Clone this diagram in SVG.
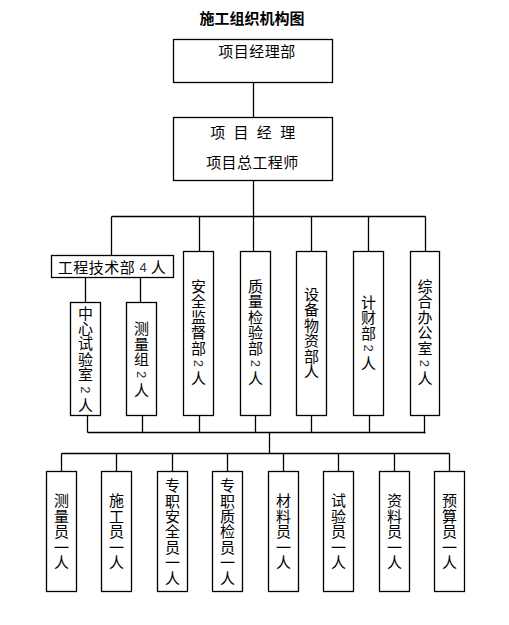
<svg xmlns="http://www.w3.org/2000/svg" width="509" height="625" viewBox="0 0 509 625">
<style>
.bx{fill:#fff;stroke:#000;stroke-width:1.3}
.ln{stroke:#000;stroke-width:1.3;fill:none}
.t{font-family:"Noto Sans CJK SC","Noto Sans",sans-serif;font-size:15px;fill:#000;text-anchor:middle}
.d{font-family:"Liberation Sans",sans-serif;font-size:13px;fill:#333;text-anchor:middle}
.ttl{font-family:"Noto Sans CJK SC",sans-serif;font-size:15px;font-weight:700;fill:#000;text-anchor:middle}
</style>
<rect width="509" height="625" fill="#fff"/>
<text class="ttl" x="252" y="23.7">施工组织机构图</text>
<g id="connectors">
<path class="ln" d="M253.5 82.5V117.5M253.5 180.5V216.5M111.5 216.5H425.5M111.5 216.5V255.5M199.5 216.5V251.5M253.5 216.5V251.5M311.5 216.5V251.5M368.5 216.5V251.5M425.5 216.5V251.5"/>
<path class="ln" d="M85.5 277.5V302.5M140.5 277.5V302.5"/>
<path class="ln" d="M87.5 415.5V432.5M142.5 415.5V432.5M199.5 415.5V432.5M255.5 415.5V432.5M311.5 415.5V432.5M369.5 415.5V432.5M424.5 415.5V433.5M87.5 432.5H425.5M269.5 432.5V453.5"/>
<path class="ln" d="M61.5 453.5H449.5M61.5 453.5V471.5M116.5 453.5V471.5M172.5 453.5V471.5M227.5 453.5V471.5M283.5 453.5V471.5M338.5 453.5V471.5M394.5 453.5V471.5M449.5 453.5V471.5"/>
</g>
<g id="n-xmjlb">
<rect class="bx" x="173.5" y="39.5" width="159" height="43"/>
<text class="t" x="257" y="57.4" letter-spacing="0.5">项目经理部</text>
</g>
<g id="n-xmjl">
<rect class="bx" x="173.5" y="117.5" width="159" height="63"/>
<text class="t" x="217.7 241 264.3 287.7" y="138">项目经理</text>
<text class="t" x="213.7 229.1 244.5 259.9 275.3 290.7" y="168">项目总工程师</text>
</g>
<g id="n-gcjsb">
<rect class="bx" x="51.5" y="255.5" width="122" height="22"/>
<text class="t" x="65.3 80.8 96.3 111.8 127.3" y="273.2">工程技术部</text>
<text class="d" x="143" y="272.2" fill="#456">4</text>
<text class="t" x="158.3" y="273.2">人</text>
</g>
<g id="n-zxsys">
<rect class="bx" x="70.5" y="302.5" width="30" height="113"/>
<text class="t" x="85.5 85.5 85.5 85.5 85.5" y="318.5 333.9 349.3 364.7 380.1">中心试验室</text>
<text class="d" transform="translate(85.5 389.8) rotate(90)" y="4.6">2</text>
<text class="t" x="85.5" y="410.9">人</text>
</g>
<g id="n-clz">
<rect class="bx" x="126.5" y="302.5" width="30" height="113"/>
<text class="t" x="141.5 141.5 141.5" y="334.1 349.5 364.9">测量组</text>
<text class="d" transform="translate(141.5 374.6) rotate(90)" y="4.6">2</text>
<text class="t" x="141.5" y="395.7">人</text>
</g>
<g id="n-aqjdb">
<rect class="bx" x="183.5" y="251.5" width="30" height="164"/>
<text class="t" x="198.5 198.5 198.5 198.5 198.5" y="292 307.4 322.8 338.2 353.6">安全监督部</text>
<text class="d" transform="translate(198.5 363.3) rotate(90)" y="4.6">2</text>
<text class="t" x="198.5" y="384.4">人</text>
</g>
<g id="n-zljyb">
<rect class="bx" x="240.5" y="251.5" width="30" height="164"/>
<text class="t" x="255.5 255.5 255.5 255.5 255.5" y="292 307.4 322.8 338.2 353.6">质量检验部</text>
<text class="d" transform="translate(255.5 363.3) rotate(90)" y="4.6">2</text>
<text class="t" x="255.5" y="384.4">人</text>
</g>
<g id="n-sbwzb">
<rect class="bx" x="296.5" y="251.5" width="30" height="164"/>
<text class="t" x="311.5 311.5 311.5 311.5 311.5 311.5" y="300 315.4 330.8 346.2 361.6 377">设备物资部人</text>
</g>
<g id="n-jcb">
<rect class="bx" x="353.5" y="251.5" width="30" height="164"/>
<text class="t" x="368.5 368.5 368.5" y="307.7 323.1 338.5">计财部</text>
<text class="d" transform="translate(368.5 348.2) rotate(90)" y="4.6">2</text>
<text class="t" x="368.5" y="369.3">人</text>
</g>
<g id="n-zhbgs">
<rect class="bx" x="410.5" y="251.5" width="29" height="164"/>
<text class="t" x="425 425 425 425 425" y="292 307.4 322.8 338.2 353.6">综合办公室</text>
<text class="d" transform="translate(425 363.3) rotate(90)" y="4.6">2</text>
<text class="t" x="425" y="384.4">人</text>
</g>
<g id="n-cly">
<rect class="bx" x="46.5" y="471.5" width="30" height="120"/>
<text class="t" x="61.5 61.5 61.5 61.5 61.5" y="506.4 521.8 537.2 552.6 568">测量员一人</text>
</g>
<g id="n-sgy">
<rect class="bx" x="101.5" y="471.5" width="30" height="120"/>
<text class="t" x="116.5 116.5 116.5 116.5 116.5" y="506.4 521.8 537.2 552.6 568">施工员一人</text>
</g>
<g id="n-zzaqy">
<rect class="bx" x="157.5" y="471.5" width="30" height="120"/>
<text class="t" x="172.5 172.5 172.5 172.5 172.5 172.5 172.5" y="491.1 506.5 521.9 537.3 552.7 568.1 583.5">专职安全员一人</text>
</g>
<g id="n-zzzjy">
<rect class="bx" x="212.5" y="471.5" width="30" height="120"/>
<text class="t" x="227.5 227.5 227.5 227.5 227.5 227.5 227.5" y="491.1 506.5 521.9 537.3 552.7 568.1 583.5">专职质检员一人</text>
</g>
<g id="n-cly2">
<rect class="bx" x="268.5" y="471.5" width="30" height="120"/>
<text class="t" x="283.5 283.5 283.5 283.5 283.5" y="506.4 521.8 537.2 552.6 568">材料员一人</text>
</g>
<g id="n-syy">
<rect class="bx" x="323.5" y="471.5" width="30" height="120"/>
<text class="t" x="338.5 338.5 338.5 338.5 338.5" y="506.4 521.8 537.2 552.6 568">试验员一人</text>
</g>
<g id="n-zly">
<rect class="bx" x="379.5" y="471.5" width="30" height="120"/>
<text class="t" x="394.5 394.5 394.5 394.5 394.5" y="506.4 521.8 537.2 552.6 568">资料员一人</text>
</g>
<g id="n-ysy">
<rect class="bx" x="434.5" y="471.5" width="30" height="120"/>
<text class="t" x="449.5 449.5 449.5 449.5 449.5" y="506.4 521.8 537.2 552.6 568">预算员一人</text>
</g>
</svg>
